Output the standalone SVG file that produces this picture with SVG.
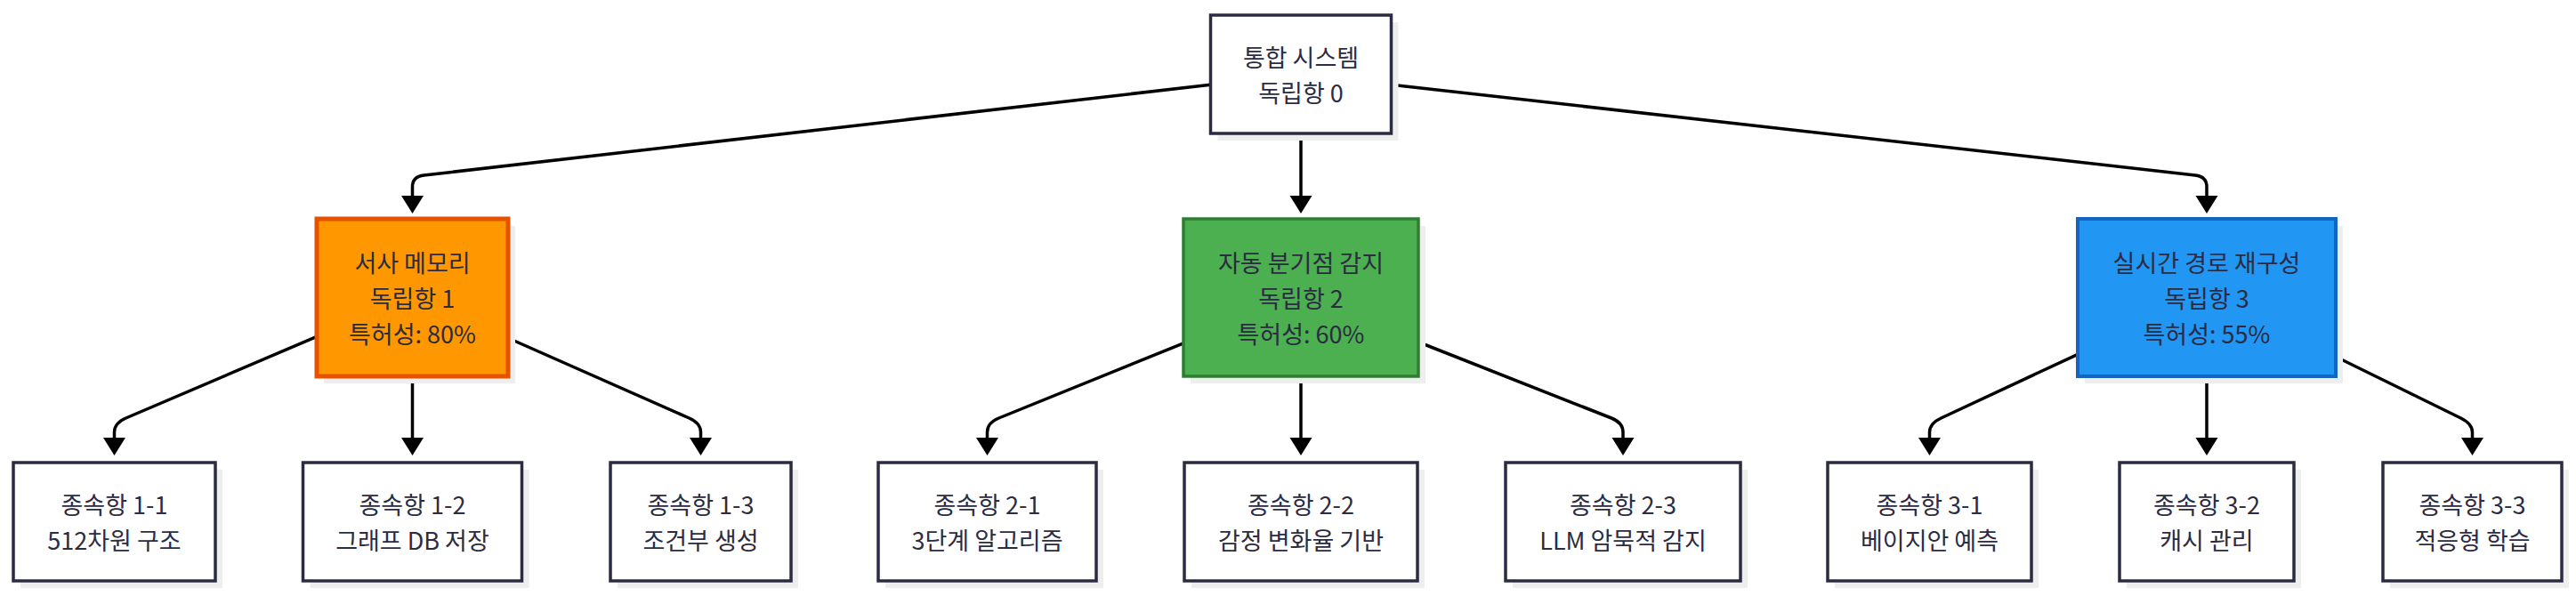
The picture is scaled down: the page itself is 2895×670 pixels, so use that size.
<svg xmlns="http://www.w3.org/2000/svg" width="2895" height="670" viewBox="0 0 2895 670">
<style>
  .shadow { fill: #eeeeee; stroke: none; }
  .box { fill: #ffffff; stroke: #2b2b42; stroke-width: 3.5; }
  .orange { fill: #ff9800; stroke: #e65100; stroke-width: 5; }
  .green { fill: #4caf50; stroke: #2e7d32; stroke-width: 3.5; }
  .blue { fill: #2196f3; stroke: #1565c0; stroke-width: 4; }
  text { font-family: "Noto Sans CJK KR", "Noto Sans", sans-serif; font-size: 27px; fill: #2b2b42; text-anchor: middle; dominant-baseline: central; }
  .edge { fill: none; stroke: #000000; stroke-width: 3.5; marker-end: url(#arrow); }
</style>
<defs>
  <marker id="arrow" markerUnits="userSpaceOnUse" markerWidth="21" markerHeight="26" refX="0" refY="13" orient="auto" viewBox="0 0 21 26">
    <path d="M0,0.5 L20,13 L0,25.5 z" fill="#000000"/>
  </marker>
</defs>
<rect width="2895" height="670" fill="#ffffff"/>

<g id="edges">
  <path class="edge" d="M1360.5,95.2 L476.5,197 Q463.5,198.5 463.5,210 L463.5,220"/>
  <path class="edge" d="M1462,150 L1462,220"/>
  <path class="edge" d="M1563.5,95.2 L2467,197 Q2480,198.5 2480,210 L2480,220"/>
  <path class="edge" d="M356,378.4 L141.5,470 Q128.5,475.6 128.5,486 L128.5,492"/>
  <path class="edge" d="M463.5,423 L463.5,492"/>
  <path class="edge" d="M571,380 L774.5,470 Q787.5,475.7 787.5,486 L787.5,492"/>
  <path class="edge" d="M1330,385.8 L1122.5,470 Q1109.5,475.3 1109.5,486 L1109.5,492"/>
  <path class="edge" d="M1462,423 L1462,492"/>
  <path class="edge" d="M1594,384.5 L1811,470 Q1824,475.1 1824,486 L1824,492"/>
  <path class="edge" d="M2335,398.3 L2181.5,470 Q2168.5,476.1 2168.5,486 L2168.5,492"/>
  <path class="edge" d="M2480,423 L2480,492"/>
  <path class="edge" d="M2625,401 L2765.5,470 Q2778.5,476.4 2778.5,486 L2778.5,492"/>
</g>

<g id="root">
  <rect class="shadow" x="1368.5" y="25" width="203" height="133"/>
  <rect class="box" x="1360.5" y="17" width="203" height="133"/>
  <text x="1462" y="63.5">통합 시스템</text>
  <text x="1462" y="103.5">독립항 0</text>
</g>

<g id="ind1">
  <rect class="shadow" x="364" y="254" width="215" height="177"/>
  <rect class="orange" x="356" y="246" width="215" height="177"/>
  <text x="463.5" y="294.5">서사 메모리</text>
  <text x="463.5" y="334.5">독립항 1</text>
  <text x="463.5" y="374.5">특허성: 80%</text>
</g>

<g id="ind2">
  <rect class="shadow" x="1338" y="254" width="264" height="177"/>
  <rect class="green" x="1330" y="246" width="264" height="177"/>
  <text x="1462" y="294.5">자동 분기점 감지</text>
  <text x="1462" y="334.5">독립항 2</text>
  <text x="1462" y="374.5">특허성: 60%</text>
</g>

<g id="ind3">
  <rect class="shadow" x="2343" y="254" width="290" height="177"/>
  <rect class="blue" x="2335" y="246" width="290" height="177"/>
  <text x="2480" y="294.5">실시간 경로 재구성</text>
  <text x="2480" y="334.5">독립항 3</text>
  <text x="2480" y="374.5">특허성: 55%</text>
</g>

<g id="dep11">
  <rect class="shadow" x="23" y="528" width="227" height="133"/>
  <rect class="box" x="15" y="520" width="227" height="133"/>
  <text x="128.5" y="566.5">종속항 1-1</text>
  <text x="128.5" y="606.5">512차원 구조</text>
</g>

<g id="dep12">
  <rect class="shadow" x="348.5" y="528" width="246" height="133"/>
  <rect class="box" x="340.5" y="520" width="246" height="133"/>
  <text x="463.5" y="566.5">종속항 1-2</text>
  <text x="463.5" y="606.5">그래프 DB 저장</text>
</g>

<g id="dep13">
  <rect class="shadow" x="694" y="528" width="203" height="133"/>
  <rect class="box" x="686" y="520" width="203" height="133"/>
  <text x="787.5" y="566.5">종속항 1-3</text>
  <text x="787.5" y="606.5">조건부 생성</text>
</g>

<g id="dep21">
  <rect class="shadow" x="995" y="528" width="245" height="133"/>
  <rect class="box" x="987" y="520" width="245" height="133"/>
  <text x="1109.5" y="566.5">종속항 2-1</text>
  <text x="1109.5" y="606.5">3단계 알고리즘</text>
</g>

<g id="dep22">
  <rect class="shadow" x="1339" y="528" width="262" height="133"/>
  <rect class="box" x="1331" y="520" width="262" height="133"/>
  <text x="1462" y="566.5">종속항 2-2</text>
  <text x="1462" y="606.5">감정 변화율 기반</text>
</g>

<g id="dep23">
  <rect class="shadow" x="1700" y="528" width="264" height="133"/>
  <rect class="box" x="1692" y="520" width="264" height="133"/>
  <text x="1824" y="566.5">종속항 2-3</text>
  <text x="1824" y="606.5">LLM 암묵적 감지</text>
</g>

<g id="dep31">
  <rect class="shadow" x="2062" y="528" width="229" height="133"/>
  <rect class="box" x="2054" y="520" width="229" height="133"/>
  <text x="2168.5" y="566.5">종속항 3-1</text>
  <text x="2168.5" y="606.5">베이지안 예측</text>
</g>

<g id="dep32">
  <rect class="shadow" x="2390" y="528" width="196" height="133"/>
  <rect class="box" x="2382" y="520" width="196" height="133"/>
  <text x="2480" y="566.5">종속항 3-2</text>
  <text x="2480" y="606.5">캐시 관리</text>
</g>

<g id="dep33">
  <rect class="shadow" x="2686" y="528" width="201" height="133"/>
  <rect class="box" x="2678" y="520" width="201" height="133"/>
  <text x="2778.5" y="566.5">종속항 3-3</text>
  <text x="2778.5" y="606.5">적응형 학습</text>
</g>
</svg>
